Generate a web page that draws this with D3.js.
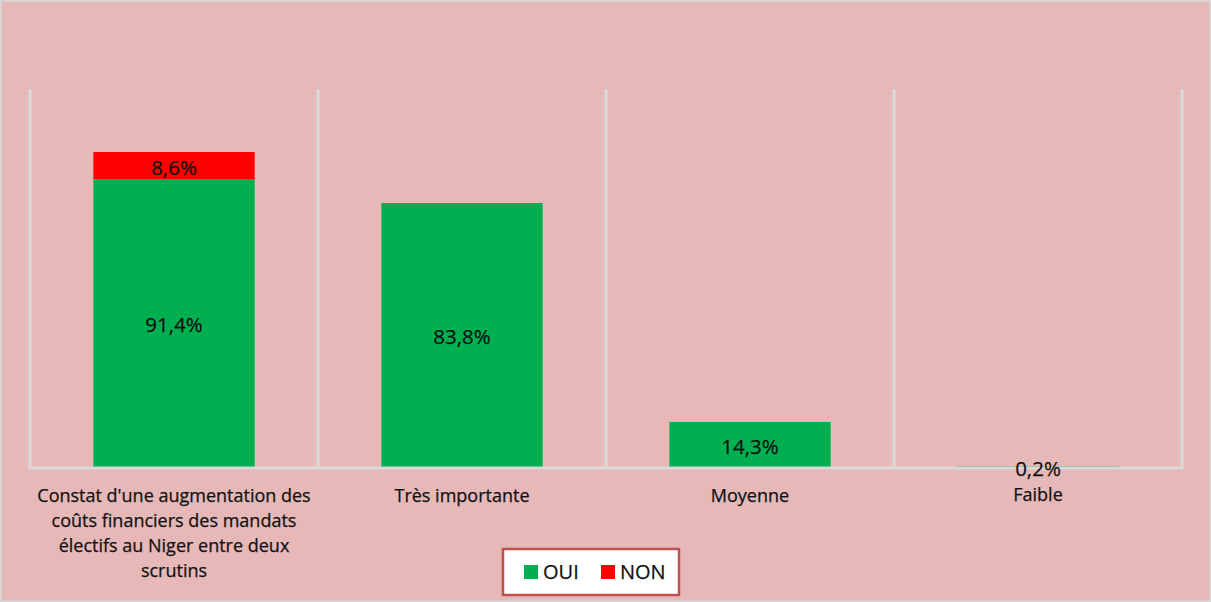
<!DOCTYPE html>
<html lang="fr">
<head>
  <meta charset="UTF-8">
  <title>Coûts financiers des mandats électifs</title>
  <script src="https://d3js.org/d3.v7.min.js"></script>
  <style>
    html, body { margin: 0; padding: 0; }
    body { width: 1211px; height: 602px; overflow: hidden; background: #e6b8b8; }
    svg text { font-family: "Open Sans", Lato, sans-serif; fill: #111; stroke: #111; stroke-width: 0.25px; }
  </style>
</head>
<body>
  <div id="chart"></div>
  <script>
    // Data
    const categories = [
      "Constat d'une augmentation des coûts financiers des mandats électifs au Niger entre deux scrutins",
      "Très importante",
      "Moyenne",
      "Faible"
    ];
    const categoryLines = [
      ["Constat d'une augmentation des", "coûts financiers des mandats", "électifs au Niger entre deux", "scrutins"],
      ["Très importante"],
      ["Moyenne"],
      ["Faible"]
    ];
    const oui = [91.4, 83.8, 14.3, 0.2];
    const non = [8.6, null, null, null];
    const seriesNames = ["OUI", "NON"];
    const colors = {OUI: "#00b050", NON: "#ff0000"};

    const W = 1211, H = 602;
    const margin = {top: 89, right: 29, bottom: 135, left: 30};

    const svg = d3.select("#chart").append("svg")
      .attr("width", W)
      .attr("height", H);

    // outer border
    svg.append("rect")
      .attr("x", 0.5).attr("y", 0.5)
      .attr("width", W - 1).attr("height", H - 1)
      .attr("fill", "#e6b8b8")
      .attr("stroke", "#d9d9d9")
      .attr("stroke-width", 2);

    const x = d3.scaleBand()
      .domain(categories)
      .range([margin.left, W - margin.right])
      .paddingInner(0.44)
      .paddingOuter(0.22);

    const y = d3.scaleLinear()
      .domain([0, 120])
      .range([H - margin.bottom, margin.top]);

    // vertical gridlines between categories
    const edges = categories.map((c, i) => margin.left + i * ((W - margin.right - margin.left) / categories.length));
    edges.push(W - margin.right);
    svg.append("g")
      .selectAll("line")
      .data(edges)
      .enter()
      .append("line")
      .attr("x1", d => d).attr("x2", d => d)
      .attr("y1", y(120)).attr("y2", y(0))
      .attr("stroke", "#d9d9d9")
      .attr("stroke-width", 3);

    const rows = categories.map((c, i) => ({cat: c, OUI: oui[i], NON: non[i] || 0}));
    const stacked = d3.stack().keys(seriesNames)(rows);

    // bars
    svg.append("g")
      .selectAll("g")
      .data(stacked)
      .enter()
      .append("g")
      .attr("fill", d => colors[d.key])
      .selectAll("rect")
      .data(d => d.filter(p => p[1] > p[0]))
      .enter()
      .append("rect")
      .attr("x", d => x(d.data.cat))
      .attr("y", d => y(d[1]))
      .attr("width", x.bandwidth())
      .attr("height", d => y(d[0]) - y(d[1]));

    // baseline
    svg.append("line")
      .attr("x1", margin.left - 1.5).attr("x2", W - margin.right + 1.5)
      .attr("y1", y(0) + 1).attr("y2", y(0) + 1)
      .attr("stroke", "#d9d9d9")
      .attr("stroke-width", 3);

    // data labels
    const fmt = v => d3.format(".1f")(v).replace(".", ",") + "%";
    const labels = [];
    stacked.forEach(s => s.forEach(p => {
      if (p[1] > p[0]) labels.push({cat: p.data.cat, mid: (p[0] + p[1]) / 2, v: p[1] - p[0]});
    }));
    svg.append("g")
      .selectAll("text")
      .data(labels)
      .enter()
      .append("text")
      .attr("x", d => x(d.cat) + x.bandwidth() / 2)
      .attr("y", d => y(d.mid) + 2)
      .attr("dy", "0.35em")
      .attr("text-anchor", "middle")
      .style("font-size", "20.5px")
      .text(d => fmt(d.v));

    // category labels
    const catG = svg.append("g")
      .selectAll("text")
      .data(categories)
      .enter()
      .append("text")
      .attr("x", d => x(d) + x.bandwidth() / 2)
      .attr("y", (d, i) => y(0) + (i === 3 ? 34 : 35))
      .attr("text-anchor", "middle")
      .style("font-size", "18px");
    catG.selectAll("tspan")
      .data((d, i) => categoryLines[i])
      .enter()
      .append("tspan")
      .attr("x", function () { return d3.select(this.parentNode).attr("x"); })
      .attr("dy", (d, i) => i === 0 ? 0 : 25)
      .text(d => d);

    // legend
    const legend = svg.append("g").attr("transform", "translate(503,549)");
    legend.append("rect")
      .attr("width", 176).attr("height", 46)
      .attr("fill", "#fff")
      .attr("stroke", "#c0504d")
      .attr("stroke-width", 2.5);
    const item = legend.selectAll("g.item")
      .data(seriesNames)
      .enter()
      .append("g")
      .attr("class", "item")
      .attr("transform", (d, i) => `translate(${i === 0 ? 21 : 98},16)`);
    item.append("rect")
      .attr("width", 14).attr("height", 14)
      .attr("fill", d => colors[d]);
    item.append("text")
      .attr("x", 19).attr("y", 7)
      .attr("dy", "0.36em")
      .style("font-size", "20px")
      .text(d => d);
  </script>
</body>
</html>
